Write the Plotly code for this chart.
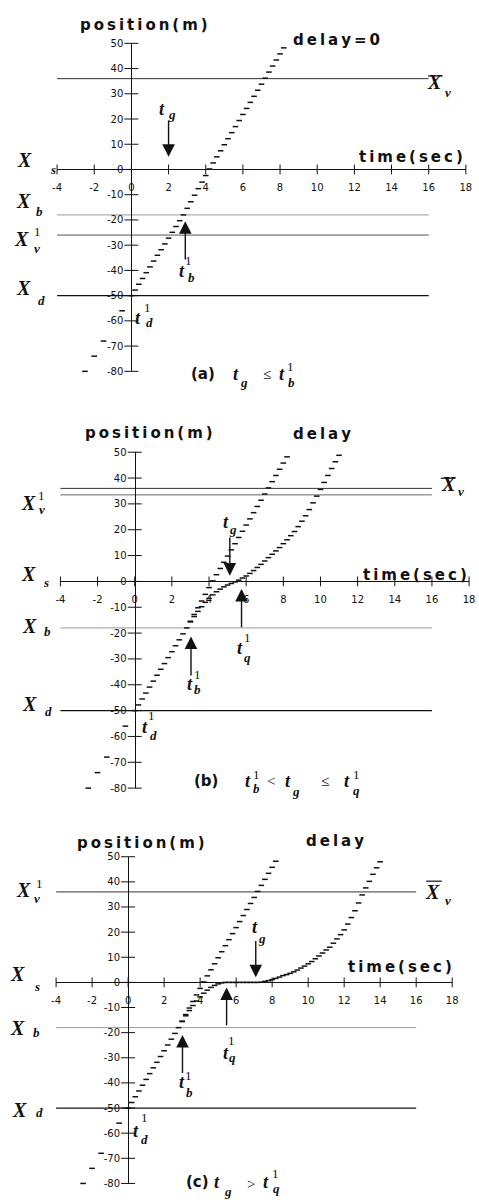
import plotly.graph_objects as go

# ---------------- data ----------------
x_tick_vals = [-4, -2, 0, 2, 4, 6, 8, 10, 12, 14, 16, 18]
x_tick_text = ["-4", "-2", "0", "2", "4", "6", "8", "10", "12", "14", "16", "18"]
y_tick_vals = [50, 40, 30, 20, 10, 0, -10, -20, -30, -40, -50, -60, -70, -80]
y_tick_text = ["50", "40", "30", "20", "10", "0", "-10", "-20", "-30", "-40",
               "-50", "-60", "-70", "-80"]

# trajectory without delay (time s, position m)
free_t = [-2.5, -2.0, -1.5, -0.5,
          0.0, 0.2, 0.4, 0.6, 0.8, 1.0, 1.2, 1.4, 1.6, 1.8, 2.0, 2.2, 2.4, 2.6, 2.8,
          3.0, 3.2, 3.4, 3.6, 3.8, 4.0, 4.2, 4.4, 4.6, 4.8, 5.0, 5.2, 5.4, 5.6, 5.8,
          6.0, 6.2, 6.4, 6.6, 6.8, 7.0, 7.2, 7.4, 7.6, 7.8, 8.0, 8.2]
free_x = [-80, -74, -68, -56,
          -50.0, -47.8, -45.5, -43.2, -40.9, -38.6, -36.3, -34.0, -31.8, -29.5, -27.2,
          -24.9, -22.6, -20.3, -18.0, -15.4, -12.8, -10.2, -7.6, -5.0, -2.4, 0.2, 2.6,
          5.0, 7.4, 9.8, 12.2, 14.6, 17.0, 19.4, 21.8, 24.2, 26.6, 29.0, 31.4, 33.8,
          36.2, 38.6, 41.0, 43.4, 45.8, 48.2]

# (b) braking branch: green arrives before the stop, vehicle re-accelerates
slow_b_t = [3.0, 3.2, 3.4, 3.6, 3.8, 4.0, 4.2, 4.4, 4.6, 4.8, 5.0, 5.2, 5.4, 5.6,
            5.8, 6.0, 6.2, 6.4, 6.6, 6.8, 7.0, 7.2, 7.4, 7.6, 7.8, 8.0, 8.2, 8.4,
            8.6, 8.8, 9.0, 9.2, 9.4, 9.6, 9.8, 10.0, 10.2, 10.4, 10.6, 10.8, 11.0, 11.2]
slow_b_x = [-15.7, -13.6, -11.6, -9.8, -8.1, -6.6, -5.2, -4.0, -3.0, -2.1, -1.4, -0.8,
            -0.2, 0.5, 1.3, 2.1, 3.1, 4.2, 5.4, 6.6, 7.9, 9.2, 10.5, 11.8, 13.1, 14.6,
            16.1, 17.7, 19.3, 21.2, 23.3, 25.4, 27.8, 30.4, 33.0, 35.6, 38.3, 41.0,
            43.7, 46.3, 48.8, 50.2]

# (c) braking branch: full stop at the stop line, start after green
slow_c_t = [3.0, 3.2, 3.4, 3.6, 3.8, 4.0, 4.2, 4.4, 4.6, 4.8, 5.0, 5.2, 5.4, 5.6,
            5.8, 6.0, 6.2, 6.4, 6.6, 6.8, 7.0, 7.2, 7.4, 7.6, 7.8, 8.0, 8.2, 8.4,
            8.6, 8.8, 9.0, 9.2, 9.4, 9.6, 9.8, 10.0, 10.2, 10.4, 10.6, 10.8, 11.0,
            11.2, 11.4, 11.6, 11.8, 12.0, 12.2, 12.4, 12.6, 12.8, 13.0, 13.2, 13.4,
            13.6, 13.8, 14.0]
slow_c_x = [-15.6, -13.3, -11.2, -9.2, -7.4, -5.8, -4.3, -3.1, -2.0, -1.2, -0.6, -0.2,
            0.0, 0.0, 0.0, 0.0, 0.0, 0.0, 0.0, 0.0, 0.0, 0.0, 0.1, 0.4, 0.7, 1.1, 1.6,
            2.1, 2.7, 3.1, 3.6, 4.2, 4.9, 5.7, 6.5, 7.4, 8.3, 9.4, 10.5, 11.7, 12.9,
            14.0, 15.6, 17.3, 19.0, 20.9, 23.2, 25.8, 28.5, 31.6, 34.8, 37.6, 40.2,
            43.0, 45.6, 48.0]

# reference positions (m) of the horizontal lines in each panel
levels_a = [36, -18, -26, -50]
levels_b = [36, 33.5, -18, -50]
levels_c = [36, -18, -50]
line_span = [-4.2, 16.0]

# event times (s) marked with arrows
events_a = {"tg": 2.0, "tb": 2.9}
events_b = {"tg": 5.12, "tb": 3.03, "tq": 5.75}
events_c = {"tg": 7.09, "tb": 3.02, "tq": 5.47}
delay_b = [8.47, 10.95]
delay_c = [8.98, 13.32]

# ---------------- figure ----------------
W, H = 479, 1204
INK = "#111111"
SANS = "DejaVu Sans"
SERIF = "Liberation Serif"
THIN = "\u2009"

fig = go.Figure()

# pixel frames of the three panels: (x of -4, x of 18), (y of 50, y of -80)
frames = [((53.3, 471.7), (37.7, 369.0)),
          ((56.7, 475.0), (450.7, 790.0)),
          ((52.3, 457.7), (859.3, 1189.3))]

line_styles = {
    0: [("#333333", 1.0), ("#9a9a9a", 1.0), ("#555555", 1.0), ("#111111", 1.2)],
    1: [("#333333", 1.0), ("#666666", 1.0), ("#9a9a9a", 1.0), ("#111111", 1.2)],
    2: [("#333333", 1.0), ("#9a9a9a", 1.0), ("#111111", 1.2)],
}
levels = [levels_a, levels_b, levels_c]
branches = [None, (slow_b_t, slow_b_x), (slow_c_t, slow_c_x)]

dash_marker = dict(symbol="line-ew", size=4, color=INK, line=dict(width=1.5, color=INK))

for i, ((xl, xr), (yt, yb)) in enumerate(frames):
    sfx = "" if i == 0 else str(i + 1)
    xa, ya = "x" + sfx, "y" + sfx
    y0pix = yt + (50 / 130) * (yb - yt)
    x0pix = xl + (4 / 22) * (xr - xl)
    fig.update_layout(**{
        "xaxis" + sfx: dict(domain=[xl / W, xr / W], range=[-4, 18], anchor="free",
                            position=1 - y0pix / H, showgrid=False, zeroline=False,
                            showline=True, linecolor=INK, linewidth=1,
                            tickvals=x_tick_vals, ticktext=x_tick_text, ticks="",
                            ticklabelstandoff=9,
                            tickfont=dict(family=SANS, size=10, color=INK)),
        "yaxis" + sfx: dict(domain=[1 - yb / H, 1 - yt / H], range=[-80, 50], anchor="free",
                            position=x0pix / W, showgrid=False, zeroline=False,
                            showline=True, linecolor=INK, linewidth=1.2,
                            tickvals=y_tick_vals, ticktext=y_tick_text, ticks="",
                            ticklabelstandoff=6,
                            tickfont=dict(family=SANS, size=10, color=INK)),
    })

    # horizontal reference lines
    for lvl, (col, wd) in zip(levels[i], line_styles[i]):
        fig.add_trace(go.Scatter(x=line_span, y=[lvl, lvl], mode="lines",
                                 line=dict(color=col, width=wd), xaxis=xa, yaxis=ya,
                                 showlegend=False, hoverinfo="skip"))

    # crossing tick marks on both axes
    fig.add_trace(go.Scatter(x=x_tick_vals, y=[0] * len(x_tick_vals), mode="markers",
                             marker=dict(symbol="line-ns", size=7,
                                         line=dict(width=1, color=INK)),
                             xaxis=xa, yaxis=ya, showlegend=False, hoverinfo="skip",
                             cliponaxis=False))
    fig.add_trace(go.Scatter(x=[0] * len(y_tick_vals), y=y_tick_vals, mode="markers",
                             marker=dict(symbol="line-ew", size=10,
                                         line=dict(width=1, color=INK)),
                             xaxis=xa, yaxis=ya, showlegend=False, hoverinfo="skip",
                             cliponaxis=False))

    # trajectories drawn as short dashes
    fig.add_trace(go.Scatter(x=free_t, y=free_x, mode="markers", marker=dash_marker,
                             xaxis=xa, yaxis=ya, showlegend=False, cliponaxis=False))
    if branches[i] is not None:
        bt, bx = branches[i]
        fig.add_trace(go.Scatter(x=bt, y=bx, mode="markers", marker=dash_marker,
                                 xaxis=xa, yaxis=ya, showlegend=False, cliponaxis=False))


def arrow(sfx, x, y_tip, y_tail):
    fig.add_annotation(x=x, y=y_tip, ax=x, ay=y_tail, xref="x" + sfx, yref="y" + sfx,
                       axref="x" + sfx, ayref="y" + sfx, text="", showarrow=True,
                       arrowhead=2, arrowsize=1.8, arrowwidth=1.4, arrowcolor=INK,
                       standoff=0)


def delay_arrow(sfx, span, y):
    fig.add_annotation(x=span[1], y=y, ax=span[0], ay=y, xref="x" + sfx, yref="y" + sfx,
                       axref="x" + sfx, ayref="y" + sfx, text="", showarrow=True,
                       arrowhead=2, startarrowhead=2, arrowside="end+start",
                       arrowsize=1.2, startarrowsize=1.2, arrowwidth=2,
                       arrowcolor=INK, standoff=0, startstandoff=0)


arrow("", events_a["tg"], 5, 20)
arrow("", events_a["tb"], -20.5, -36.3)
arrow("2", events_b["tg"], 2.2, 17.6)
arrow("2", events_b["tb"], -21.3, -37)
arrow("2", events_b["tq"], -2.9, -18.3)
arrow("3", events_c["tg"], 2.0, 17.1)
arrow("3", events_c["tb"], -20.9, -36.6)
arrow("3", events_c["tq"], -2.0, -17.6)
delay_arrow("2", delay_b, 51.5)
delay_arrow("3", delay_c, 51.0)


def put(text, px, py, size, family=SERIF, weight="bold", style="italic"):
    fig.add_annotation(x=px / W, y=1 - py / H, xref="paper", yref="paper", text=text,
                       showarrow=False, xanchor="center", yanchor="middle",
                       borderpad=0,
                       font=dict(family=family, size=size, color=INK, weight=weight,
                                 style=style))


def sym(main, mpos, sub=None, spos=None, sup=None, ppos=None, msize=20):
    put(main, mpos[0], mpos[1], msize)
    if sub:
        put(sub, spos[0], spos[1], 13)
    if sup:
        put(sup, ppos[0], ppos[1], 13, weight="normal", style="normal")


def words(text, px, py, size=15, gap=THIN):
    put(gap.join(text), px, py, size, family=SANS, weight="bold", style="normal")


def overline(x0, x1, y):
    fig.add_shape(type="line", xref="paper", yref="paper", x0=x0 / W, x1=x1 / W,
                  y0=1 - y / H, y1=1 - y / H, line=dict(color=INK, width=1.2))


# panel (a)
words("position(m)", 142, 19)
words("delay=0", 339, 34)
words("time(sec)", 416, 153)
sym("X", (20, 156), "s", (49, 165))
sym("X", (18.5, 196.5), "b", (35, 208))
sym("X", (16.5, 235), "v", (33, 245), "1", (33, 228))
sym("X", (18.5, 285), "d", (37, 297))
sym("X", (440, 77), "v", (453, 87))
overline(433, 448, 70.7)
sym("t", (161, 104.5), "g", (170.5, 110), msize=18)
sym("t", (181.5, 267.5), "b", (190.7, 274), "1", (188, 257), msize=18)
sym("t", (136.5, 315), "d", (148, 320), "1", (146, 305), msize=18)
words("(a)", 203, 372, size=15, gap="")
sym("t", (236, 372), "g", (245, 380), msize=18)
put("\u2264", 268, 372, 15, weight="normal", style="normal")
sym("t", (283, 372), "b", (293, 380), "1", (292, 364), msize=18)

# panel (b)
words("position(m)", 147, 431)
words("delay", 324, 432)
words("time(sec)", 420, 575)
sym("X", (453.5, 483), "v", (467, 490))
overline(446, 461, 477)
sym("X", (24.5, 502.5), "v", (38, 509), "1", (37, 494))
sym("X", (24.5, 573.5), "s", (42, 582))
sym("X", (25, 626.5), "b", (43, 632))
sym("X", (25, 705), "d", (45, 713))
sym("t", (226.5, 521), "g", (233, 529), msize=18)
sym("t", (189, 685), "b", (197, 690), "1", (197, 675), msize=18)
sym("t", (241, 648.5), "q", (248, 658), "1", (248, 638), msize=18)
sym("t", (143.5, 728.5), "d", (152, 737), "1", (150, 717), msize=18)
words("(b)", 206, 783, size=15, gap="")
sym("t", (248.5, 783), "b", (257, 790), "1", (257, 776), msize=18)
put("<", 272, 783, 15, weight="normal", style="normal")
sym("t", (290, 783), "g", (298, 793), msize=18)
put("\u2264", 328, 783, 15, weight="normal", style="normal")
sym("t", (350, 783), "q", (360, 792), "1", (360, 776), msize=18)

# panel (c)
words("position(m)", 139, 845)
words("delay", 338, 843)
words("time(sec)", 404, 971)
sym("X", (438, 895), "v", (453, 903))
overline(431, 447, 884)
sym("X", (18.5, 893), "v", (33, 901), "1", (35, 886))
sym("X", (12.5, 978), "s", (33, 990))
sym("X", (12.5, 1032.5), "b", (32, 1037))
sym("X", (15, 1115), "d", (35, 1118))
sym("t", (256, 930.5), "g", (263, 942), msize=18)
sym("t", (181.5, 1086.5), "b", (189, 1097), "1", (188, 1080), msize=18)
sym("t", (226, 1057.5), "q", (233, 1062), "1", (232, 1045), msize=18)
sym("t", (134, 1136.5), "d", (143, 1145), "1", (143, 1123), msize=18)
words("(c)", 197, 1188, size=15, gap="")
sym("t", (217, 1188), "g", (228, 1197), msize=18)
put(">", 252, 1190, 15, weight="normal", style="normal")
sym("t", (267, 1188), "q", (278, 1194), "1", (277, 1179), msize=18)

fig.update_layout(width=W, height=H, margin=dict(l=0, r=0, t=0, b=0),
                  paper_bgcolor="white", plot_bgcolor="white", showlegend=False)

fig.write_html("out.html")
